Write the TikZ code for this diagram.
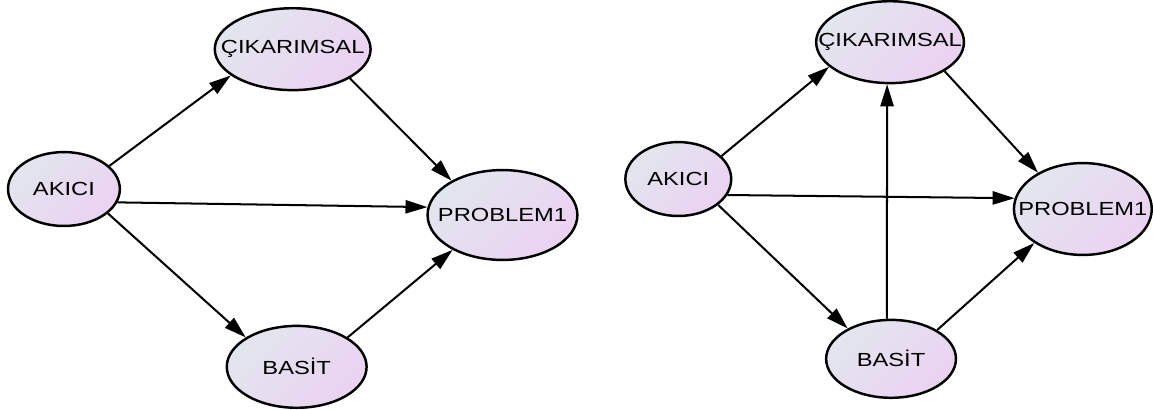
\documentclass[tikz,border=0pt]{standalone}
\usepackage{fontspec}
\setmainfont{Liberation Sans}[FakeStretch=1.25]
\usepackage{tikz}
\usetikzlibrary{shapes.geometric, arrows.meta}
\definecolor{varblue}{RGB}{226, 230, 238}
\definecolor{varpink}{RGB}{235, 210, 242}

\begin{document}
\begin{tikzpicture}[x=0.02cm, y=-0.02cm,
    var/.style 2 args={ellipse, draw, line width=1.4pt, top color=varblue, bottom color=varpink, shading angle=45, minimum width=#1, minimum height=#2, inner sep=0pt},
    every label/.style={font=\fontsize{10.8}{12}\selectfont, inner sep=0pt},
    effect/.style={-{Triangle[length=12.5pt, width=7.5pt]}, line width=1.15pt}]
  \fill[white] (0, 0) rectangle (1153, 407);

  % Left model
  \node[var={3.12cm}{1.64cm}, label=center:ÇIKARIMSAL] (cikL) at (293, 48) {};
  \node[var={2.24cm}{1.48cm}, label=center:AKICI] (akiciL) at (64, 188) {};
  \node[var={3.0cm}{1.8cm}, label=center:PROBLEM1] (probL) at (503, 214) {};
  \node[var={2.8cm}{1.64cm}, label=center:BASİT] (basitL) at (297, 366) {};

  \draw[effect] (akiciL.27) -- (cikL.203);
  \draw[effect] (cikL.-27) -- (probL.146);
  \draw[effect] (akiciL.-14) -- (probL.174);
  \draw[effect] (akiciL.-29) -- (basitL.150);
  \draw[effect] (basitL.30) -- (probL.215);

  % Right model
  \node[var={2.96cm}{1.64cm}, label=center:ÇIKARIMSAL] (cikR) at (891, 41) {};
  \node[var={2.12cm}{1.48cm}, label=center:AKICI] (akiciR) at (679, 178) {};
  \node[var={2.76cm}{1.84cm}, label=center:PROBLEM1] (probR) at (1084, 208) {};
  \node[var={2.6cm}{1.56cm}, label=center:BASİT] (basitR) at (892, 358) {};

  \draw[effect] (akiciR.28) -- (cikR.202);
  \draw[effect] (cikR.-28) -- (probR.141);
  \draw[effect] (akiciR.-18) -- (probR.171);
  \draw[effect] (akiciR.-33) -- (basitR.145);
  \draw[effect] (basitR.96) -- (cikR.-94);
  \draw[effect] (basitR.32) -- (probR.215);
\end{tikzpicture}
\end{document}
